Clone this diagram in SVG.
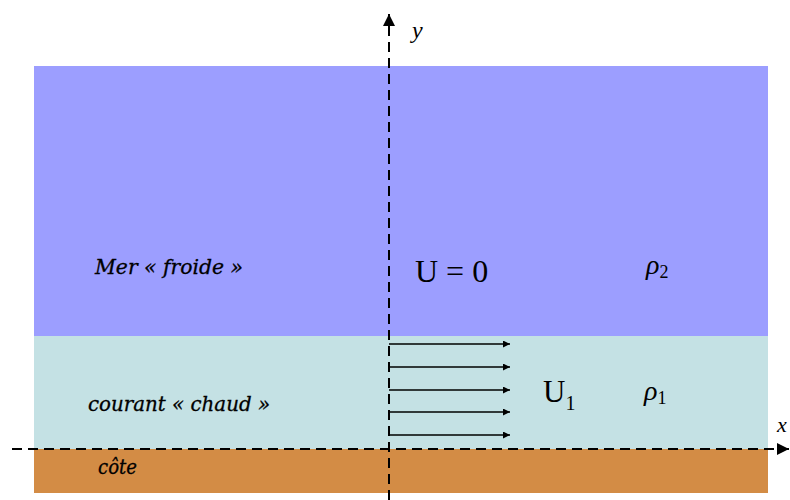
<svg xmlns="http://www.w3.org/2000/svg" width="790" height="500" viewBox="0 0 790 500">
<defs>
<style>
.lbl{font-family:"DejaVu Serif","Liberation Serif",serif;font-style:italic;font-size:20px;fill:#000;stroke:#000;stroke-width:0.3}
.math{font-family:"Liberation Serif",serif;fill:#000}
.axis{stroke:#000;stroke-width:2;stroke-dasharray:10,6;fill:none}
.flow{stroke:#000;stroke-width:1.3;fill:none}
</style>
<marker id="ah" viewBox="0 0 10 10" refX="10" refY="5" markerWidth="9" markerHeight="7" markerUnits="userSpaceOnUse" orient="auto"><path d="M0,0 L10,5 L0,10 z" fill="#000"/></marker>
<marker id="axh" viewBox="0 0 10 10" refX="10" refY="5" markerWidth="12" markerHeight="12" markerUnits="userSpaceOnUse" orient="auto"><path d="M0,0 L10,5 L0,10 z" fill="#000"/></marker>
</defs>
<rect width="790" height="500" fill="#fff"/>
<g id="mer">
<rect x="34" y="66" width="734" height="270" fill="#9c9eff"/>
<text class="lbl" x="95" y="274" textLength="148" lengthAdjust="spacingAndGlyphs">Mer « froide »</text>
<text class="math" x="415" y="282" font-size="32">U = 0</text>
<text class="math" x="646" y="274" font-size="28" font-style="italic">ρ<tspan font-size="18" font-style="normal" dy="4">2</tspan></text>
</g>
<g id="courant">
<rect x="34" y="336" width="734" height="113" fill="#c4e1e4"/>
<text class="lbl" x="88" y="411" textLength="182" lengthAdjust="spacingAndGlyphs">courant « chaud »</text>
<text class="math" x="543" y="402" font-size="31">U<tspan font-size="20" dy="8">1</tspan></text>
<text class="math" x="644" y="400" font-size="28" font-style="italic">ρ<tspan font-size="18" font-style="normal" dy="4">1</tspan></text>
</g>
<g id="cote">
<rect x="34" y="449" width="734" height="44" fill="#d38c45"/>
<text class="lbl" x="98" y="474" textLength="39" lengthAdjust="spacingAndGlyphs">côte</text>
</g>
<g id="connectors">
<line class="flow" x1="389" y1="344" x2="510" y2="344" marker-end="url(#ah)"/>
<line class="flow" x1="389" y1="367" x2="510" y2="367" marker-end="url(#ah)"/>
<line class="flow" x1="389" y1="390" x2="510" y2="390" marker-end="url(#ah)"/>
<line class="flow" x1="389" y1="412" x2="510" y2="412" marker-end="url(#ah)"/>
<line class="flow" x1="389" y1="435" x2="510" y2="435" marker-end="url(#ah)"/>
<line class="axis" x1="389" y1="500" x2="389" y2="14" marker-end="url(#axh)"/>
<line class="axis" x1="12" y1="449" x2="789" y2="449" marker-end="url(#axh)"/>
</g>
<text class="math" x="412" y="38" font-size="24" font-style="italic">y</text>
<text class="math" x="777" y="432" font-size="22" font-style="italic">x</text>
</svg>
